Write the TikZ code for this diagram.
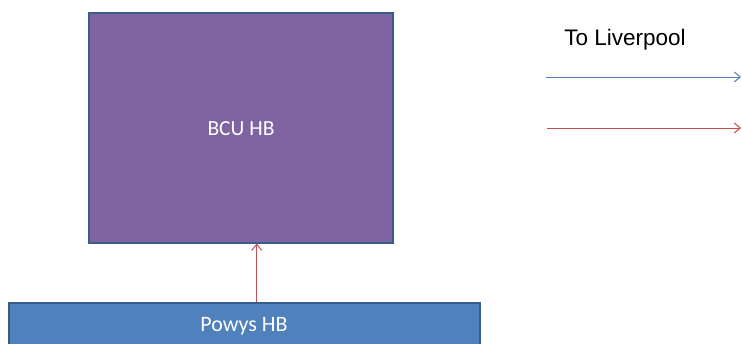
\documentclass[tikz,border=0pt]{standalone}
\usepackage{fontspec}
\setmainfont{Carlito}
\newfontfamily\arialfont{Liberation Sans}
\usetikzlibrary{arrows.meta}
\definecolor{bcufill}{HTML}{8064A2}
\definecolor{powysfill}{HTML}{4F81BD}
\definecolor{boxborder}{HTML}{385D8A}
\definecolor{arrblue}{HTML}{4F81BD}
\definecolor{arrred}{HTML}{C0504D}
\tikzset{
  hbbox/.style={draw=boxborder, line width=2pt, inner sep=0pt, text=white},
  flowarrow/.style={line width=1pt, -{Straight Barb[length=6pt,width=10pt]}},
}
\begin{document}
\begin{tikzpicture}[x=1pt,y=-1pt]
\useasboundingbox (0,0) rectangle (742,343);
\node[hbbox, fill=bcufill, minimum width=304pt, minimum height=230pt] (bcu) at (240.5,127.5) {};
\node[text=white, font=\fontsize{21.5}{24}\selectfont, anchor=base] (bcutext) at (241,135) {BCU HB};
\node[hbbox, fill=powysfill, minimum width=471pt, minimum height=70pt, anchor=north west] (powys) at (8.3,301.7) {};
\node[text=white, font=\fontsize{22}{25}\selectfont, anchor=base] (powystext) at (244,331.7) {Powys HB};
\draw[flowarrow, arrred] (powys.north -| 256.7,0) -- (bcu.south -| 256.7,0);
\node[font=\arialfont\fontsize{22.5}{26}\selectfont, anchor=base] (liv) at (625,45.7) {To Liverpool};
\coordinate (b1) at (546,77);
\coordinate (b2) at (741,77);
\coordinate (r1) at (547,128);
\coordinate (r2) at (741,128);
\draw[flowarrow, arrblue] (b1) -- (b2);
\draw[flowarrow, arrred] (r1) -- (r2);
\end{tikzpicture}
\end{document}
